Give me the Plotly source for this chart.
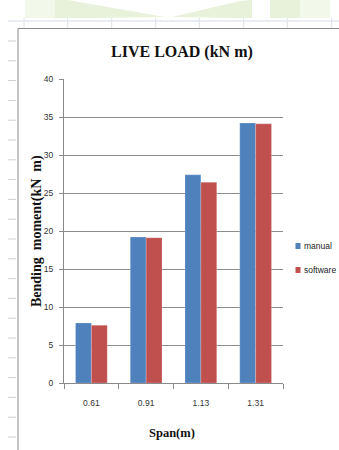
import plotly.graph_objects as go

# Bending moment under live load, hand calculation vs. software
spans = ["0.61", "0.91", "1.13", "1.31"]
manual = [7.9, 19.2, 27.4, 34.2]
software = [7.6, 19.1, 26.4, 34.1]
series_names = ["manual", "software"]
series_colors = ["#4F81BD", "#C0504D"]
y_ticks = [0, 5, 10, 15, 20, 25, 30, 35, 40]

W, H = 339, 450
ML, MR, MT, MB = 64, 56, 79, 67
PW, PH = W - ML - MR, H - MT - MB


def px(x):
    return (x - ML) / PW


def py(y):
    return (H - MB - y) / PH


def poly(points):
    p = " L ".join(f"{px(a)},{py(b)}" for a, b in points)
    return f"M {p} Z"


fig = go.Figure()
for name, vals, col in zip(series_names, [manual, software], series_colors):
    fig.add_trace(go.Bar(
        x=spans, y=vals, name=name, marker_color=col,
        marker_line=dict(color="rgba(255,255,255,0.35)", width=0.6),
        showlegend=False,
    ))

shapes = []
# faint watermark band at the top of the page
pale, mid = "#f2f8ea", "#e8f2da"
for pts, col in [
    ([(25, 0), (55, 0), (55, 18), (25, 18)], pale),
    ([(55, 0), (68, 0), (165, 17), (95, 18), (55, 18)], mid),
    ([(172, 17), (240, 1), (252, 0), (252, 18), (235, 18)], mid),
    ([(270, 0), (300, 0), (300, 18), (270, 18)], mid),
    ([(300, 0), (330, 0), (330, 18), (300, 18)], pale),
]:
    shapes.append(dict(type="path", xref="paper", yref="paper", path=poly(pts),
                       fillcolor=col, line=dict(width=0), layer="below"))
# worksheet grid around the chart object
shapes.append(dict(type="line", xref="paper", yref="paper",
                   x0=px(8), x1=px(339), y0=py(21), y1=py(21),
                   line=dict(color="#d3dae6", width=1)))
for gx in [24, 67.7, 111.7, 155.7, 199.3, 243.7, 287.3, 331.7]:
    shapes.append(dict(type="line", xref="paper", yref="paper",
                       x0=px(gx), x1=px(gx), y0=py(18), y1=py(28),
                       line=dict(color="#dde2ea", width=1)))
ry = 41.0
while ry < H:
    shapes.append(dict(type="line", xref="paper", yref="paper",
                       x0=px(8), x1=px(16), y0=py(ry), y1=py(ry),
                       line=dict(color="#d0d0d0", width=1)))
    ry += 19.8
# chart object border
shapes.append(dict(type="path", xref="paper", yref="paper",
                   path=f"M {px(18)},{py(450)} L {px(18)},{py(28.5)} L {px(339)},{py(28.5)}",
                   line=dict(color="#8a8a8a", width=1)))
# legend keys
for i, col in enumerate(series_colors):
    cy = 246 + i * 24
    shapes.append(dict(type="rect", xref="paper", yref="paper",
                       x0=px(295.5), x1=px(300.5), y0=py(cy - 3), y1=py(cy + 3),
                       fillcolor=col, line=dict(width=0)))

annotations = []
for i, name in enumerate(series_names):
    cy = 246 + i * 24
    annotations.append(dict(text=name, xref="paper", yref="paper",
                            x=px(301.5), y=py(cy), xanchor="left", yanchor="middle",
                            showarrow=False,
                            font=dict(family="Liberation Sans, sans-serif",
                                      size=8.5, color="#222")))
annotations.append(dict(text="<b>LIVE LOAD (kN m)</b>", xref="paper", yref="paper",
                        x=px(182), y=py(52), xanchor="center", yanchor="middle",
                        showarrow=False,
                        font=dict(family="Liberation Serif, serif", size=16, color="#111")))
annotations.append(dict(text="<b>Bending  moment(kN  m)</b>", xref="paper", yref="paper",
                        x=px(37), y=py(231), xanchor="center", yanchor="middle",
                        textangle=-90, showarrow=False,
                        font=dict(family="Liberation Serif, serif", size=14, color="#111")))
annotations.append(dict(text="<b>Span(m)</b>", xref="paper", yref="paper",
                        x=px(172), y=py(433), xanchor="center", yanchor="middle",
                        showarrow=False,
                        font=dict(family="Liberation Serif, serif", size=12.5, color="#111")))

tick_font = dict(family="Liberation Sans, sans-serif", size=8.5, color="#333")

fig.update_layout(
    width=W, height=H,
    margin=dict(l=ML, r=MR, t=MT, b=MB),
    paper_bgcolor="white", plot_bgcolor="white",
    barmode="group", bargap=0.42, bargroupgap=0.0,
    showlegend=False,
    shapes=shapes, annotations=annotations,
    xaxis=dict(
        type="category", showgrid=False, showline=True, linecolor="#8a8a8a", linewidth=1,
        ticks="outside", tickson="boundaries", ticklen=5, tickcolor="#8a8a8a",
        tickfont=tick_font, ticklabelstandoff=12, zeroline=False,
    ),
    yaxis=dict(
        range=[0, 40], tickvals=y_ticks, showgrid=True, gridcolor="#8c8c8c", gridwidth=1,
        showline=True, linecolor="#8a8a8a", linewidth=1,
        ticks="outside", ticklen=4, tickcolor="#8a8a8a",
        tickfont=tick_font, ticklabelstandoff=4, zeroline=False,
    ),
)

fig.write_html("out.html")
